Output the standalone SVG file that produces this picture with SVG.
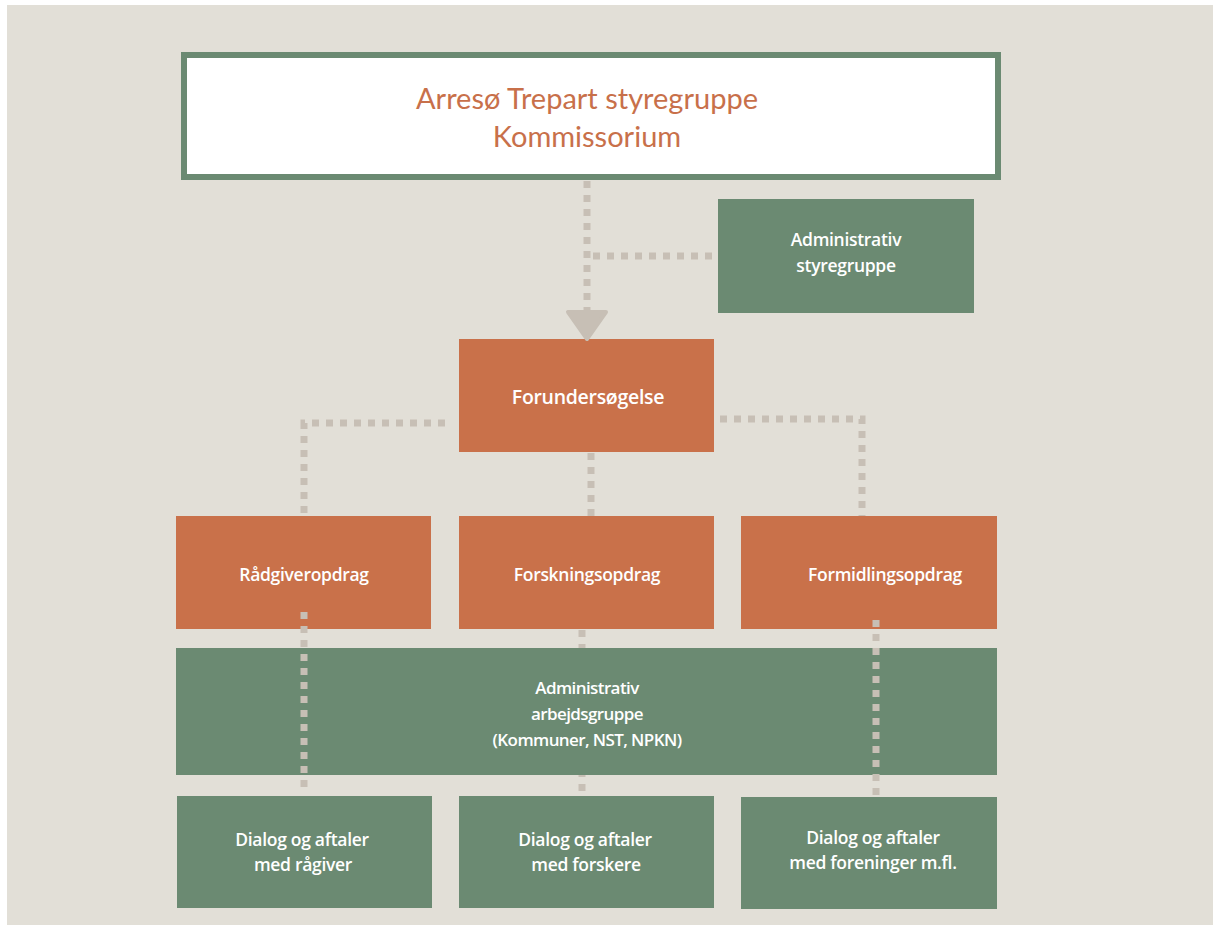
<svg xmlns="http://www.w3.org/2000/svg" width="1213" height="925" viewBox="0 0 1213 925">
<defs>
<style>
.bg{fill:#e2dfd7}
.g{fill:#6b8a72}
.o{fill:#c9714a}
.t{font-family:"Open Sans","Liberation Sans",sans-serif;font-weight:600;font-size:17.5px;fill:#ffffff;text-anchor:middle;letter-spacing:-0.3px}
.c{font-size:17px;letter-spacing:-0.6px}
.title{font-family:Lato,"Liberation Sans",sans-serif;font-size:29px;fill:#c8704a;text-anchor:middle}
.d{fill:none;stroke:#c7bfb5;stroke-width:7;stroke-dasharray:7 7}
</style>
</defs>
<rect class="bg" x="7" y="5" width="1206" height="920"/>
<g id="connectors-back">
<path class="d" d="M582 630V800"/>
</g>
<g id="n-top">
<rect x="184" y="55" width="814" height="122" fill="#ffffff" stroke="#6b8a72" stroke-width="6"/>
<text class="title" x="587" y="109">Arresø Trepart styregruppe</text>
<text class="title" x="587" y="147">Kommissorium</text>
</g>
<g id="n-adminstyre">
<rect class="g" x="718" y="199" width="256" height="114"/>
<text class="t" x="846" y="246">Administrativ</text>
<text class="t" x="846" y="272">styregruppe</text>
</g>
<g id="n-forunders">
<rect class="o" x="459" y="339" width="255" height="113"/>
<text class="t" x="588" y="404" style="font-size:19.5px">Forundersøgelse</text>
</g>
<g id="n-raadgiver">
<rect class="o" x="176" y="516" width="255" height="113"/>
<text class="t" x="304" y="581">Rådgiveropdrag</text>
</g>
<g id="n-forskning">
<rect class="o" x="459" y="516" width="255" height="113"/>
<text class="t" x="587" y="581">Forskningsopdrag</text>
</g>
<g id="n-formidling">
<rect class="o" x="741" y="516" width="256" height="113"/>
<text class="t" x="885" y="581">Formidlingsopdrag</text>
</g>
<g id="n-adminarb">
<rect class="g" x="176" y="648" width="821" height="127"/>
<text class="t c" x="587" y="694">Administrativ</text>
<text class="t c" x="587" y="720">arbejdsgruppe</text>
<text class="t c" x="587" y="746">(Kommuner, NST, NPKN)</text>
</g>
<g id="n-dialog1">
<rect class="g" x="177" y="796" width="255" height="112"/>
<text class="t" x="302" y="846">Dialog og aftaler</text>
<text class="t" x="303" y="871">med rågiver</text>
</g>
<g id="n-dialog2">
<rect class="g" x="459" y="796" width="255" height="112"/>
<text class="t" x="585" y="846">Dialog og aftaler</text>
<text class="t" x="586" y="871">med forskere</text>
</g>
<g id="n-dialog3">
<rect class="g" x="741" y="797" width="256" height="112"/>
<text class="t" x="873" y="844">Dialog og aftaler</text>
<text class="t" x="873" y="869">med foreninger m.fl.</text>
</g>
<g id="connectors">
<path class="d" d="M587 181V316"/>
<path class="d" d="M712 256H593"/>
<path d="M568 312H606L587 339Z" fill="#c7bfb5" stroke="#c7bfb5" stroke-width="4" stroke-linejoin="round"/>
<path class="d" d="M445 423H304V516"/>
<path class="d" d="M720 419H862V516"/>
<path class="d" d="M591 453V516"/>
<path class="d" d="M304 612V792"/>
<path class="d" d="M876 620V797"/>
</g>
</svg>
